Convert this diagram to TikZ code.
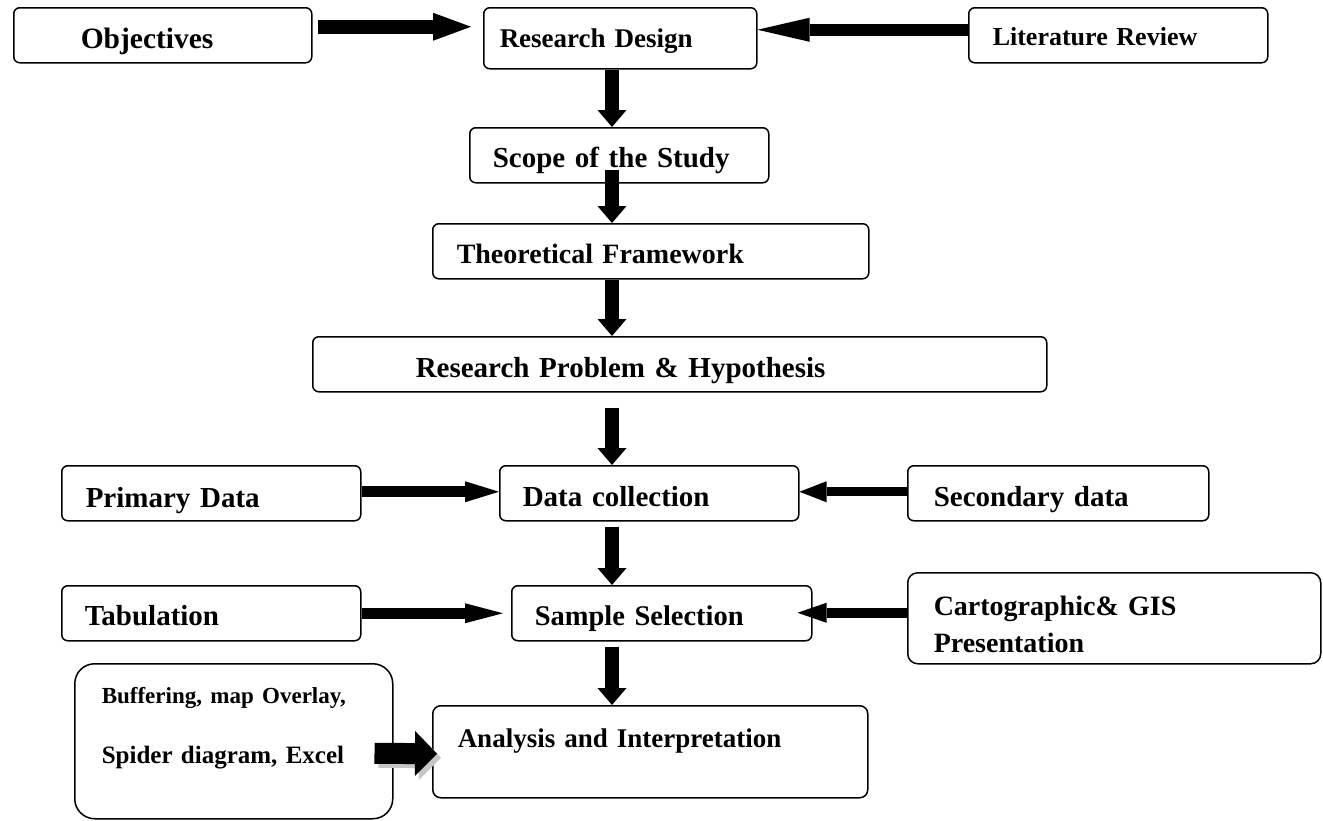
\documentclass[tikz,border=0pt]{standalone}
\usepackage{fontspec}
\setmainfont{Liberation Serif}
\usepackage{tikz}
\usetikzlibrary{arrows.meta,calc}

\tikzset{
	box/.style={draw, line width=1.5pt, rounded corners=6pt, anchor=north west, align=left, inner ysep=0pt},
	fat/.style n args={3}{line width=#1, -{Triangle[width=#2, length=#3, line width=0pt]}},
	vfat/.style={fat={14pt}{29pt}{17pt}}
}

\begin{document}
\begin{tikzpicture}[x=1pt, y=-1pt]
	\useasboundingbox (0,0) rectangle (1323,820);
	\coordinate (spine) at (612,0);

	% top row
	\node [box, font=\bfseries\fontsize{29.5}{35}\selectfont, inner xsep=67pt, text width=164pt, minimum height=55pt, text height=27pt, text depth=0pt] (obj) at (13,7) {Objectives};
	\node [box, font=\bfseries\fontsize{27}{32}\selectfont, inner xsep=16pt, text width=241pt, minimum height=61pt, text height=19pt, text depth=0pt] (rd) at (483,7) {Research Design};
	\node [box, font=\bfseries\fontsize{26}{31}\selectfont, inner xsep=24pt, text width=251pt, minimum height=55pt, text height=21pt, text depth=0pt] (lr) at (968,7) {Literature Review};

	% main column
	\node [box, font=\bfseries\fontsize{29}{34}\selectfont, inner xsep=23pt, text width=253pt, minimum height=55pt, text height=25pt, text depth=0pt] (scope) at (469,127) {Scope of the Study};
	\node [box, font=\bfseries\fontsize{28}{33}\selectfont, inner xsep=24pt, text width=388pt, minimum height=55pt, text height=25pt, text depth=0pt] (theo) at (432,223) {Theoretical Framework};
	\node [box, font=\bfseries\fontsize{29}{34}\selectfont, inner xsep=103pt, text width=528pt, minimum height=55pt, text height=27pt, text depth=0pt] (rp) at (312,336) {Research Problem \& Hypothesis};

	% data row
	\node [box, font=\bfseries\fontsize{29}{34}\selectfont, inner xsep=24pt, text width=251pt, minimum height=55pt, text height=29pt, text depth=0pt] (pd) at (61,465) {Primary Data};
	\node [box, font=\bfseries\fontsize{29}{34}\selectfont, inner xsep=23pt, text width=253pt, minimum height=55pt, text height=27pt, text depth=0pt] (dc) at (499,465) {Data collection};
	\node [box, font=\bfseries\fontsize{29}{34}\selectfont, inner xsep=26pt, text width=249pt, minimum height=55pt, text height=27pt, text depth=0pt] (sd) at (907,465) {Secondary data};

	% sample row
	\node [box, font=\bfseries\fontsize{29}{34}\selectfont, inner xsep=23pt, text width=253pt, minimum height=55pt, text height=25pt, text depth=0pt] (tab) at (61,585) {Tabulation};
	\node [box, font=\bfseries\fontsize{28.5}{34}\selectfont, inner xsep=23pt, text width=254pt, minimum height=55pt, text height=25pt, text depth=0pt] (ss) at (511,585) {Sample Selection};
	\node [box, rounded corners=10pt, font=\bfseries\fontsize{28}{37}\selectfont, inner xsep=26pt, text width=361pt, minimum height=91pt, text height=20pt, text depth=25pt] (carto) at (907,572) {Cartographic\& GIS\\Presentation};

	% last row
	\node [box, rounded corners=20pt, font=\bfseries\fontsize{25}{60}\selectfont, inner xsep=27pt, text width=264pt, minimum height=155pt, text height=20pt, text depth=95pt] (buf) at (74,663) {{\fontsize{23}{60}\selectfont Buffering, map Overlay,}\\Spider diagram, Excel};
	\node [box, rounded corners=8pt, font=\bfseries\fontsize{27}{32}\selectfont, inner xsep=25pt, text width=385pt, minimum height=92pt, text height=20pt, text depth=28pt] (ai) at (432,705) {Analysis and Interpretation};

	% side arrows
	\draw [fat={14pt}{28pt}{38pt}] ([xshift=5pt,yshift=8.5pt]obj.east) -- ([xshift=-12pt,yshift=11.5pt]rd.west);
	\draw [fat={12pt}{24pt}{52pt}] ([yshift=5.5pt]lr.west) -- ([yshift=8.5pt]rd.east);
	\draw [fat={11pt}{21pt}{34pt}] ([yshift=1.5pt]pd.east) -- ([yshift=1.5pt]dc.west);
	\draw [fat={9pt}{21pt}{27pt}] ([yshift=1.5pt]sd.west) -- ([yshift=1.5pt]dc.east);
	\draw [fat={11pt}{20pt}{38pt}] (tab.east) -- ([xshift=-8pt]ss.west);
	\draw [fat={10pt}{20pt}{29pt}] ([yshift=5.5pt]carto.west) -- ([xshift=-15pt,yshift=0.5pt]ss.east);
	\draw [fat={21pt}{45pt}{22pt}, gray!45, transform canvas={xshift=4pt,yshift=-4pt}] ([xshift=-19pt,yshift=-12pt]buf.east) -- ([xshift=5pt,yshift=-2pt]ai.west);
	\draw [fat={21pt}{45pt}{22pt}] ([xshift=-19pt,yshift=-12pt]buf.east) -- ([xshift=5pt,yshift=-2pt]ai.west);

	% down the middle
	\draw [vfat] (spine |- rd.south) -- (spine |- scope.north);
	\draw [vfat] ($(spine |- scope.south)+(0,-14)$) -- (spine |- theo.north);
	\draw [vfat] (spine |- theo.south) -- (spine |- rp.north);
	\draw [vfat] ($(spine |- rp.south)+(0,15)$) -- (spine |- dc.north);
	\draw [vfat] ($(spine |- dc.south)+(0,5)$) -- (spine |- ss.north);
	\draw [vfat] ($(spine |- ss.south)+(0,5)$) -- (spine |- ai.north);
\end{tikzpicture}
\end{document}
